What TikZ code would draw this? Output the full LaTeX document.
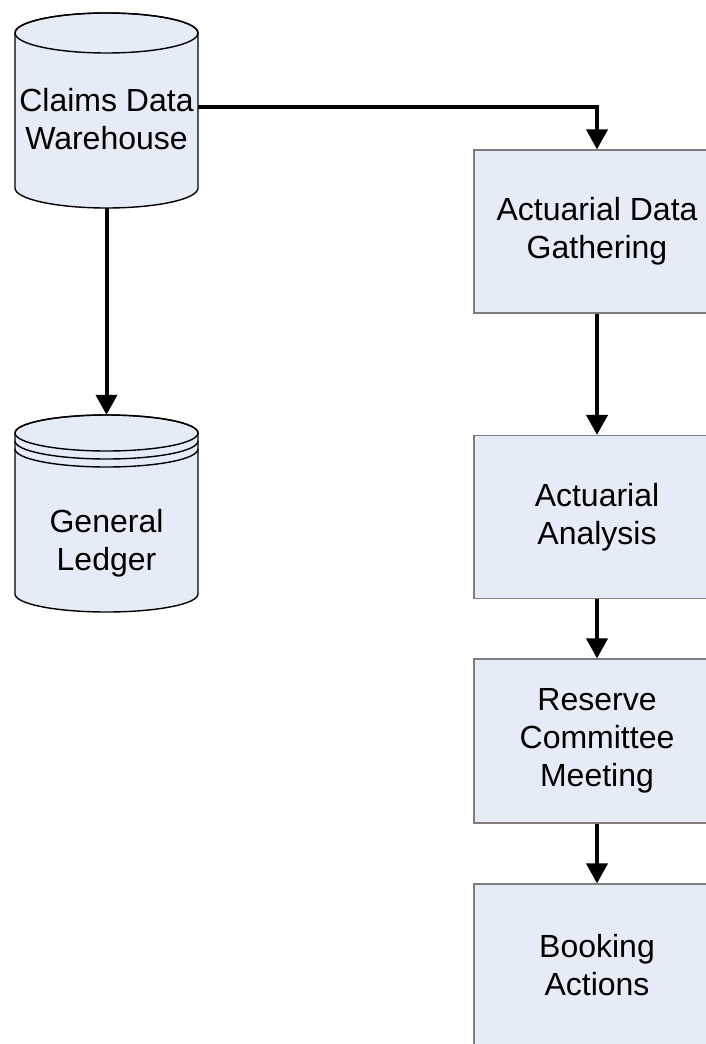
\documentclass[tikz,border=0pt]{standalone}
\usepackage{fontspec}
\setmainfont{Liberation Sans}
\usetikzlibrary{arrows.meta}
\definecolor{boxfill}{RGB}{230,236,247}
\definecolor{boxline}{RGB}{125,125,125}
\begin{document}
\begin{tikzpicture}[x=1pt,y=-1pt,
  lbl/.style={align=center,font=\fontsize{32}{38}\selectfont,inner sep=0pt},
  procbox/.style={rectangle,draw=boxline,line width=1.2pt,fill=boxfill,minimum width=246pt,minimum height=163pt,align=center,font=\fontsize{32}{38}\selectfont},
  dbframe/.style={rectangle,minimum width=183pt,inner sep=0pt},
  cyl/.style={draw=black,line width=1.4pt,fill=boxfill},
  cylline/.style={draw=black,line width=1.4pt},
  flow/.style={line width=4pt,-{Triangle[length=20pt,width=21pt]}}]
\useasboundingbox (0,0) rectangle (706,1044);
\clip (0,0) rectangle (706,1044);
\fill[white] (0,0) rectangle (706,1044);

% Claims Data Warehouse cylinder
\path[cyl] (15,33) -- (15,188) arc[start angle=180,end angle=0,x radius=91.5,y radius=20] -- (198,33) arc[start angle=0,end angle=-180,x radius=91.5,y radius=20] -- cycle;
\path[cylline] (106.5,33) ellipse[x radius=91.5,y radius=20];
\node[dbframe,minimum height=195pt] (cdw) at (106.5,110.5) {};
\node[lbl] (cdwtext) at (106.5,119) {Claims Data\\Warehouse};

% General Ledger cylinder
\path[cyl] (15,433) -- (15,594) arc[start angle=180,end angle=0,x radius=91.5,y radius=18] -- (198,433) arc[start angle=0,end angle=-180,x radius=91.5,y radius=18] -- cycle;
\path[cylline] (106.5,433) ellipse[x radius=91.5,y radius=18];
\path[cylline] (15,441) arc[start angle=180,end angle=0,x radius=91.5,y radius=18];
\path[cylline] (15,449) arc[start angle=180,end angle=0,x radius=91.5,y radius=18];
\node[dbframe,minimum height=197pt] (gl) at (106.5,513.5) {};
\node[lbl] (gltext) at (106.5,543) {General\\Ledger};

% Process boxes
\node[procbox] (b1) at (597,231.5) {Actuarial Data\\Gathering};
\node[procbox] (b2) at (597,517) {Actuarial\\Analysis};
\node[procbox,minimum height=164pt] (b3) at (597,741) {Reserve\\Committee\\Meeting};
\node[procbox] (b4) at (597,965.5) {Booking\\Actions};

% Connectors
\draw[flow] ([yshift=3.5pt]cdw.east) -| (b1.north);
\draw[flow] (cdw.south) -- (gl.north);
\draw[flow] (b1.south) -- (b2.north);
\draw[flow] (b2.south) -- (b3.north);
\draw[flow] (b3.south) -- (b4.north);
\end{tikzpicture}
\end{document}
